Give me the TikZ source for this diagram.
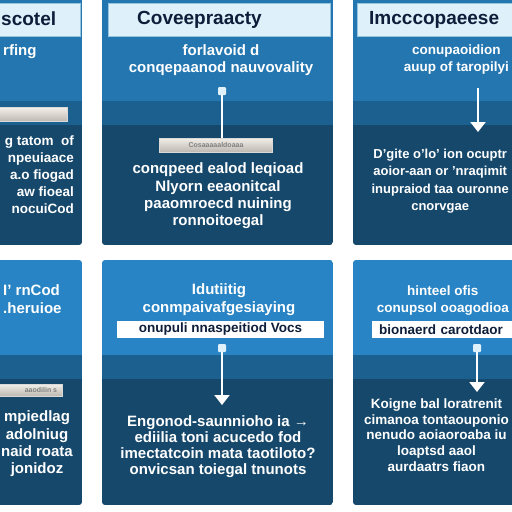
\documentclass[tikz,border=0pt]{standalone}
\usepackage{fontspec}
\setmainfont{Liberation Sans}
\usetikzlibrary{arrows.meta}

\definecolor{upA}{RGB}{36,118,176}
\definecolor{upB}{RGB}{40,132,196}
\definecolor{bandblue}{RGB}{27,96,143}
\definecolor{deepblue}{RGB}{22,72,108}
\definecolor{titlefill}{RGB}{222,240,250}
\definecolor{barline}{RGB}{150,195,222}
\definecolor{navy}{RGB}{14,30,58}
\definecolor{slabtop}{RGB}{242,238,232}
\definecolor{slabbot}{RGB}{190,184,178}

\tikzset{
  titlebar/.style={draw=barline, fill=titlefill, line width=0.8pt, minimum height=33pt, inner sep=0pt},
  titletext/.style={text=navy, font=\fontsize{19}{20}\selectfont\bfseries, inner sep=0pt},
  body/.style={text=white, font=\fontsize{15}{17.3}\selectfont\bfseries, align=center, inner sep=0pt},
  edgebody/.style={body, font=\fontsize{13.5}{17}\selectfont\bfseries},
  slab/.style={top color=slabtop, bottom color=slabbot, draw=white!70!gray, minimum height=14pt, inner sep=0pt,
               text=gray, font=\fontsize{7}{8}\selectfont\bfseries},
  labelbox/.style={fill=white, text=navy, minimum height=17pt, inner sep=0pt, font=\fontsize{13.5}{14}\selectfont\bfseries},
  knob/.style={fill=titlefill, minimum size=8pt, inner sep=0pt, rounded corners=1pt},
  link/.style={draw=white, line width=2pt},
  drop/.style={link, -{Triangle[width=15pt,length=10pt]}}
}

\begin{document}
\begin{tikzpicture}[x=1pt, y=-1pt]
  \useasboundingbox (0,0) rectangle (512,512);
  \clip (0,0) rectangle (512,512);
  \fill[white] (0,0) rectangle (512,512);

  % panels: upper, band, lower
  \foreach \xa/\xb/\ya/\ym/\yn/\yb/\c in {-10/82/-10/101/125/245/upA, 102/333/-10/101/125/245/upA,
      353/522/-10/101/125/245/upA, -10/82/260/355/379/505/upB, 102/333/260/355/379/505/upB,
      353/522/260/355/379/505/upB}{
    \begin{scope}
      \clip[rounded corners=3pt] (\xa,\ya) rectangle (\xb,\yb);
      \fill[\c] (\xa,\ya) rectangle (\xb,\ym);
      \fill[bandblue] (\xa,\ym) rectangle (\xb,\yn);
      \fill[deepblue] (\xa,\yn) rectangle (\xb,\yb);
    \end{scope}
  }

  % top row
  \node[titlebar, minimum width=90pt] (tlBar) at (35,19.5) {};
  \node[titletext, anchor=west] (tlHead) at (1,19) {scotel};
  \node[titlebar, minimum width=222pt] (tmBar) at (219,19.5) {};
  \node[titletext, anchor=west] (tmHead) at (137,20) {Coveepraacty};
  \node[titlebar, minimum width=165pt] (trBar) at (439.5,19.5) {};
  \node[titletext, anchor=west] (trHead) at (369,20) {Imcccopaeese};

  \node[body, anchor=west] (tlSub) at (3,52) {rfing};
  \node[body] (tmSub) at (221,60) {forlavoid d\\conqepaanod nauvovality};
  \node[edgebody, anchor=east] (trSub) at (509,60) {conupaoidion\\auup of taropilyi};

  \node[slab, minimum width=77pt] (tlSlab) at (28.5,114.5) {};
  \node[knob] (tmKnob) at (222,91) {};
  \node[slab, minimum width=113pt] (tmSlab) at (216,145) {Cosaaaaaldoaaa};
  \draw[link] (tmKnob) -- (tmKnob |- tmSlab.north);
  \coordinate (trFrom) at (478,88);
  \coordinate (trTo) at (478,132);
  \draw[drop] (trFrom) -- (trTo);

  \node[edgebody, align=right, anchor=east] (tlText) at (74,175)
    {g tatom\ \ of\\npeuiaace\\a.o fiogad\\aw fioeal\\nocuiCod};
  \node[body] (tmText) at (218,196)
    {conqpeed ealod leqioad\\Nlyorn eeaonitcal\\paaomroecd nuining\\ronnoitoegal};
  \node[edgebody, font=\fontsize{13}{17.5}\selectfont\bfseries, anchor=east] (trText) at (509,181)
    {D'gite o'lo' ion ocuptr\\aoior-aan or 'nraqimit\\inupraiod taa ouronne\\cnorvgae};

  % bottom row
  \node[body, align=left, anchor=west] (blSub) at (3,299) {I' rnCod\\.heruioe};
  \node[body] (bmSub) at (219,299.5) {Idutiitig\\conmpaivafgesiaying};
  \node[edgebody, anchor=east] (brSub) at (509,301) {hinteel ofis\\conupsol ooagodioa};

  \node[slab, minimum width=72pt, minimum height=12pt] (blSlab) at (26,390) {\hspace{30pt}aaodilin s};
  \node[labelbox, minimum width=207pt] (bmLabel) at (220.5,329.5) {onupuli nnaspeitiod Vocs};
  \node[labelbox, minimum width=150pt, anchor=west, text width=136pt, align=left] (brLabel) at (372,329.5)
    {bionaerd carotdaor};

  \node[knob] (bmKnob) at (222,348) {};
  \coordinate (bmTo) at (222,405);
  \draw[drop] (bmKnob) -- (bmTo);
  \node[knob] (brKnob) at (477,348) {};
  \coordinate (brTo) at (477,392);
  \draw[drop] (brKnob) -- (brTo);

  \node[body] (blText) at (37,444) {mpiedlag\\adolniug\\naid roata\\jonidoz};
  \node[body, font=\fontsize{15}{16}\selectfont\bfseries] (bmText) at (218,447)
    {Engonod-saunnioho ia →\\ediilia toni acucedo fod\\imectatcoin mata taotiloto?\\onvicsan toiegal tnunots};
  \node[edgebody, font=\fontsize{13.5}{15.8}\selectfont\bfseries, anchor=east] (brText) at (509,435)
    {Koigne bal loratrenit\\cimanoa tontaouponio\\nenudo aoiaoroaba iu\\loaptsd aaol\\aurdaatrs fiaon};
\end{tikzpicture}
\end{document}
